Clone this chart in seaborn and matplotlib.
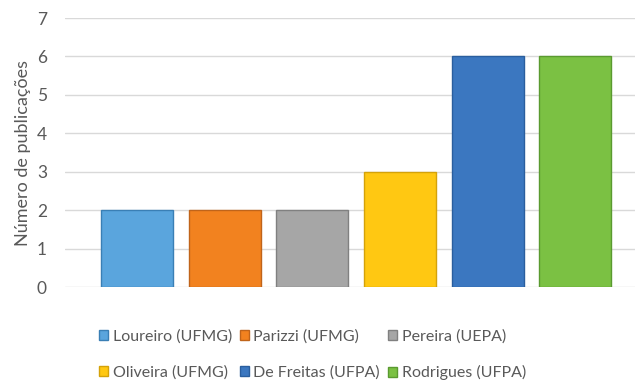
import matplotlib
matplotlib.use("Agg")
import matplotlib.pyplot as plt
import seaborn as sns
import pandas as pd
from matplotlib.patches import Patch

categories = ["Loureiro (UFMG)", "Parizzi (UFMG)", "Pereira (UEPA)",
              "Oliveira (UFMG)", "De Freitas (UFPA)", "Rodrigues (UFPA)"]
values = [2, 2, 2, 3, 6, 6]
colors = ["#5AA5DD", "#F2821F", "#A6A6A6", "#FFC812", "#3B77C0", "#7BC143"]
edges = ["#3A7FB5", "#C0641A", "#808080", "#D4A20A", "#2A5E9E", "#5A9A30"]
yticks = [0, 1, 2, 3, 4, 5, 6, 7]
ylabel = "Número de publicações"

sns.set_theme(style="white")
plt.rcParams["font.family"] = ["Lato", "DejaVu Sans"]

df = pd.DataFrame({"cat": categories, "val": values})

fig = plt.figure(figsize=(6.35, 3.86), dpi=100)
ax = fig.add_axes([65/635, 1 - 287/386, 1 - 65/635, (287 - 18)/386])

sns.barplot(data=df, x="cat", y="val", hue="cat", palette=colors,
            order=categories, hue_order=categories, legend=False,
            width=0.82, dodge=False, saturation=1, ax=ax, zorder=3)
for p, ec in zip(ax.patches, edges):
    p.set_edgecolor(ec)
    p.set_linewidth(1.0)

ax.set_ylim(0, 7)
ax.set_xlim(-0.82, 5.68)
ax.set_yticks(yticks)
ax.set_yticklabels([str(t) for t in yticks])
ax.set_xticks([])
ax.set_xlabel("")
ax.set_ylabel(ylabel, fontsize=13, color="#595959", labelpad=4)
ax.tick_params(axis="y", length=0, labelsize=12.5, labelcolor="#595959", pad=13)
ax.yaxis.grid(True, color="#D9D9D9", linewidth=1.0, zorder=0)
ax.set_axisbelow(True)
for s in ax.spines.values():
    s.set_visible(False)

handles = [Patch(facecolor=c, edgecolor=e, label=l) for c, e, l in zip(colors, edges, categories)]
order = [0, 3, 1, 4, 2, 5]
fig.legend([handles[i] for i in order], [categories[i] for i in order],
           ncol=3, loc="center left", bbox_to_anchor=(91/635, 1 - 355/386),
           frameon=False, fontsize=11.5, labelcolor="#595959",
           handlelength=0.55, handleheight=0.55, handletextpad=0.3,
           columnspacing=0.5, labelspacing=1.35, borderpad=0)

fig.savefig("out.png", dpi=100)
